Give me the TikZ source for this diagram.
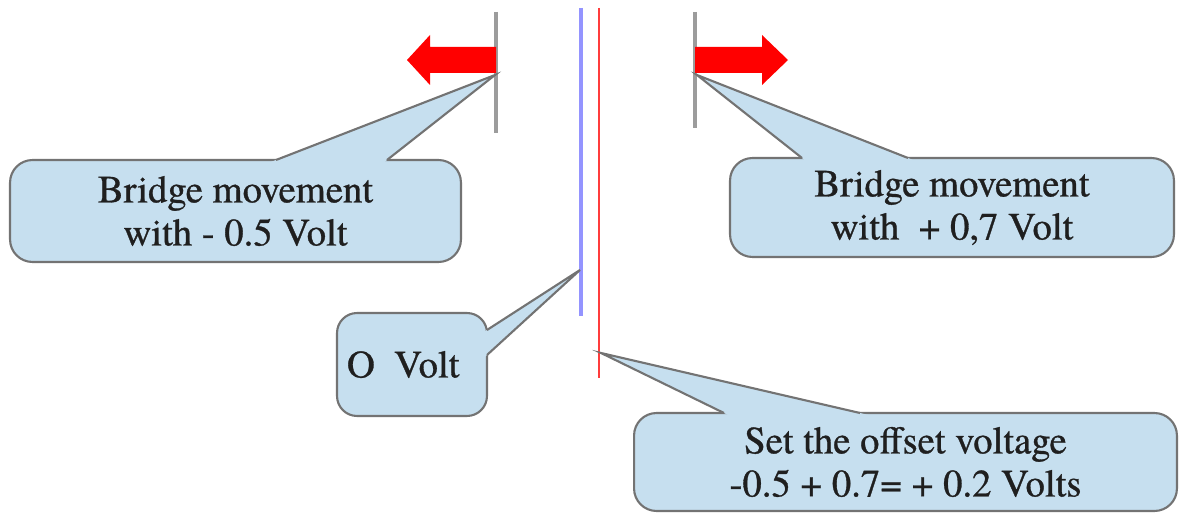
\documentclass[tikz,border=0pt]{standalone}
\usepackage{fontspec}
\setmainfont{TeX Gyre Termes}
\newfontfamily\calloutfont[FakeBold=0.8]{TeX Gyre Termes}
\usetikzlibrary{calc}
\definecolor{cfill}{HTML}{C6DFEF}
\definecolor{cline}{HTML}{737373}
\definecolor{blueline}{HTML}{9494FF}
\definecolor{redline}{HTML}{FF3C3C}
\definecolor{arrowred}{HTML}{FF0000}
\definecolor{plate}{HTML}{9C9C9C}
\begin{document}
\begin{tikzpicture}[x=0.02cm,y=-0.02cm,
  callout/.style={draw=cline, line width=1.2pt, fill=cfill, rounded corners=0.45cm,
    inner sep=0pt, align=center, text=black!88, font=\calloutfont\fontsize{22}{24.5}\selectfont},
  wedgefill/.style={fill=cfill},
  wedgeline/.style={draw=cline, line width=1.2pt, line join=miter},
  plateline/.style={draw=plate, line width=1.8pt},
  bigarrow/.style={fill=arrowred}]
\useasboundingbox (0,0) rectangle (1181,517);

% plates and electrodes
\coordinate (lpt) at (496,12); \coordinate (lpb) at (496,133);
\coordinate (rpt) at (695,12); \coordinate (rpb) at (695,128);
\coordinate (bt) at (581,8);   \coordinate (bb) at (581,316);
\coordinate (rt) at (599,8);   \coordinate (rb) at (599,378);
\draw[plateline] (lpt) -- (lpb);
\draw[plateline] (rpt) -- (rpb);
\draw[draw=blueline, line width=2.3pt] (bt) -- (bb);
\draw[draw=redline, line width=1.7pt] (rt) -- (rb);

% movement arrows
\fill[bigarrow] (496,47) -- (430,47) -- (430,35) -- (407,60) -- (430,85) -- (430,73) -- (496,73) -- cycle;
\fill[bigarrow] (695,47) -- (762,47) -- (762,35) -- (788,60) -- (762,85) -- (762,73) -- (695,73) -- cycle;

% left callout
\node[callout, minimum width=9.02cm, minimum height=2.04cm] (cl) at (235.5,211)
  {Bridge movement\\with - 0.5 Volt};
\coordinate (cltip) at (495,75);
\coordinate (clb1) at (276,160); \coordinate (clb2) at (387,160);
\fill[wedgefill] (cltip) -- ($(cltip)!1.04!(clb1)$) -- ($(cltip)!1.04!(clb2)$) -- cycle;
\draw[wedgeline] (clb1) -- (cltip) -- (clb2);

% right callout
\node[callout, minimum width=8.88cm, minimum height=1.98cm] (cr) at (952,207.5)
  {Bridge movement\\with \ + 0,7 Volt};
\coordinate (crtip) at (697,75);
\coordinate (crb1) at (802,158); \coordinate (crb2) at (908,158);
\fill[wedgefill] (crtip) -- ($(crtip)!1.04!(crb1)$) -- ($(crtip)!1.04!(crb2)$) -- cycle;
\draw[wedgeline] (crb1) -- (crtip) -- (crb2);

% zero volt callout
\node[callout, rounded corners=0.4cm, minimum width=3.0cm, minimum height=2.06cm] (cz) at (412,364.5)
  {O \ Volt\hspace*{10pt}};
\coordinate (cztip) at (580,270);
\coordinate (czb1) at (487,330); \coordinate (czb2) at (487,355);
\fill[wedgefill] (cztip) -- ($(cztip)!1.04!(czb1)$) -- ($(cztip)!1.04!(czb2)$) -- cycle;
\draw[wedgeline] (czb1) -- (cztip) -- (czb2);

% offset callout
\node[callout, minimum width=10.86cm, minimum height=1.96cm] (co) at (905.5,462)
  {Set the offset voltage\\-0.5 + 0.7= + 0.2 Volts};
\coordinate (cotip) at (601,353);
\coordinate (cob1) at (724,413); \coordinate (cob2) at (860,413);
\fill[wedgefill] (cotip) -- ($(cotip)!1.04!(cob1)$) -- ($(cotip)!1.04!(cob2)$) -- cycle;
\draw[wedgeline] (cob1) -- (cotip) -- (cob2);
\end{tikzpicture}
\end{document}
